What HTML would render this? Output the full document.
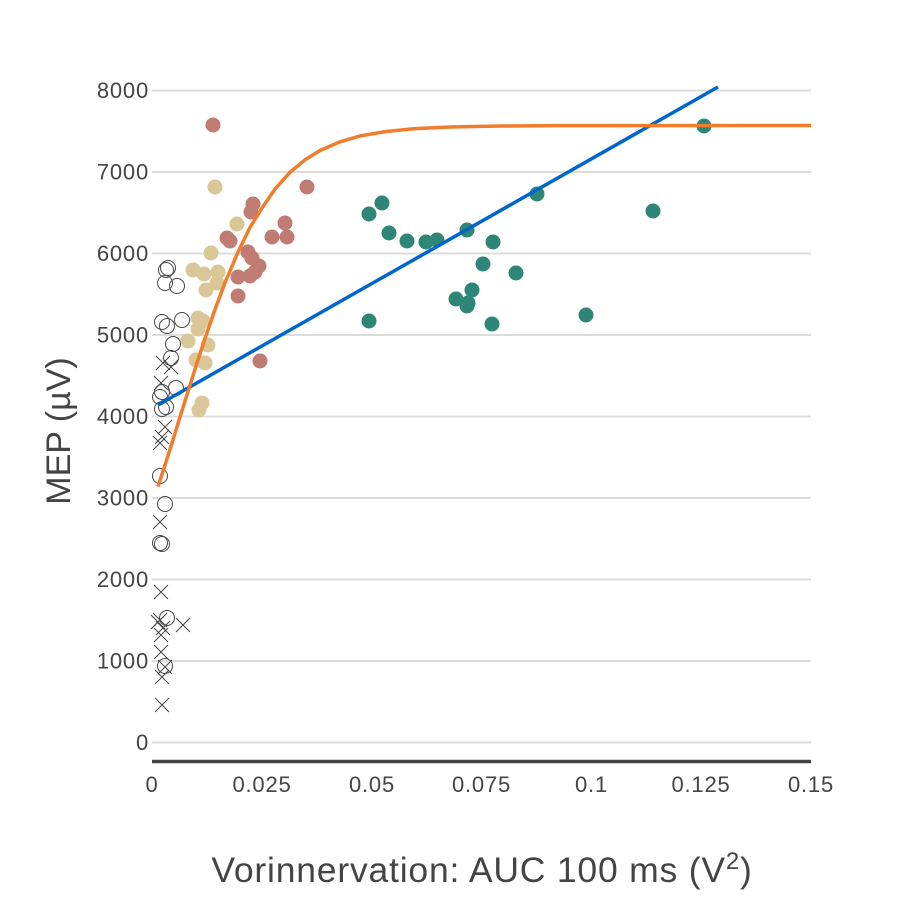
<!DOCTYPE html>
<html><head><meta charset="utf-8"><style>
html,body{margin:0;padding:0;background:#fff;}
svg{display:block;}
text{font-family:"Liberation Sans",sans-serif;fill:#444;}
</style></head><body>
<svg width="900" height="900" viewBox="0 0 900 900" xmlns="http://www.w3.org/2000/svg">
<rect width="900" height="900" fill="#fff"/>
<g stroke="#dcdcdc" stroke-width="2">
<line x1="152" x2="811" y1="742.5" y2="742.5"/>
<line x1="152" x2="811" y1="661" y2="661"/>
<line x1="152" x2="811" y1="579.5" y2="579.5"/>
<line x1="152" x2="811" y1="498" y2="498"/>
<line x1="152" x2="811" y1="416.5" y2="416.5"/>
<line x1="152" x2="811" y1="335" y2="335"/>
<line x1="152" x2="811" y1="253.5" y2="253.5"/>
<line x1="152" x2="811" y1="172" y2="172"/>
<line x1="152" x2="811" y1="90.5" y2="90.5"/>
</g>
<line x1="152" x2="811" y1="761.5" y2="761.5" stroke="#444" stroke-width="3.5"/>
<g font-size="22" text-anchor="end" letter-spacing="0.8">
<text x="149" y="750">0</text>
<text x="149" y="668.5">1000</text>
<text x="149" y="587">2000</text>
<text x="149" y="505.5">3000</text>
<text x="149" y="424">4000</text>
<text x="149" y="342.5">5000</text>
<text x="149" y="261">6000</text>
<text x="149" y="179.5">7000</text>
<text x="149" y="98">8000</text>
</g>
<g font-size="22" text-anchor="middle" letter-spacing="0.8">
<text x="152" y="792">0</text>
<text x="262" y="792">0.025</text>
<text x="372" y="792">0.05</text>
<text x="481.5" y="792">0.075</text>
<text x="591.5" y="792">0.1</text>
<text x="701" y="792">0.125</text>
<text x="811" y="792">0.15</text>
</g>
<text x="70" y="431" font-size="34" text-anchor="middle" transform="rotate(-90 70 431)">MEP (µV)</text>
<text x="482" y="882" font-size="35.5" text-anchor="middle" letter-spacing="0.8">Vorinnervation: AUC 100 ms (V<tspan font-size="24" dy="-13">2</tspan><tspan dy="13">)</tspan></text>

<!-- open circles -->
<g fill="none" stroke="#444" stroke-width="1">
<circle cx="168" cy="268" r="7.5"/><circle cx="166" cy="270" r="7.5"/><circle cx="165" cy="283" r="7.5"/><circle cx="177" cy="286" r="7.5"/>
<circle cx="162" cy="322" r="7.5"/><circle cx="167" cy="326" r="7.5"/><circle cx="182" cy="320" r="7.5"/><circle cx="173" cy="344" r="7.5"/>
<circle cx="171" cy="358" r="7.5"/><circle cx="176" cy="388" r="7.5"/><circle cx="162" cy="392" r="7.5"/><circle cx="160" cy="397" r="7.5"/>
<circle cx="162" cy="409" r="7.5"/><circle cx="166" cy="407" r="7.5"/><circle cx="160" cy="476" r="7.5"/><circle cx="165" cy="504" r="7.5"/>
<circle cx="160" cy="543" r="7.5"/><circle cx="162" cy="544" r="7.5"/><circle cx="167" cy="618" r="7.5"/><circle cx="165" cy="666" r="7.5"/>
</g>
<!-- crosses -->
<g stroke="#444" stroke-width="1" fill="none">
<path d="M156 356l14 14M170 356l-14 14"/>
<path d="M164 360l14 14M178 360l-14 14"/>
<path d="M154 376l14 14M168 376l-14 14"/>
<path d="M158 420l14 14M172 420l-14 14"/>
<path d="M155 430l14 14M169 430l-14 14"/>
<path d="M153 436l14 14M167 436l-14 14"/>
<path d="M153 515l14 14M167 515l-14 14"/>
<path d="M154 585l14 14M168 585l-14 14"/>
<path d="M151 615l14 14M165 615l-14 14"/>
<path d="M153 613l14 14M167 613l-14 14"/>
<path d="M156 621l14 14M170 621l-14 14"/>
<path d="M176 618l14 14M190 618l-14 14"/>
<path d="M154 628l14 14M168 628l-14 14"/>
<path d="M154 645l14 14M168 645l-14 14"/>
<path d="M158 660l14 14M172 660l-14 14"/>
<path d="M155 670l14 14M169 670l-14 14"/>
<path d="M155 698l14 14M169 698l-14 14"/>
</g>
<!-- tan -->
<g fill="#d9c798">
<circle cx="215" cy="187" r="7.5"/><circle cx="237" cy="224" r="7.5"/><circle cx="211" cy="253" r="7.5"/><circle cx="193" cy="270" r="7.5"/>
<circle cx="204" cy="274" r="7.5"/><circle cx="218" cy="272" r="7.5"/><circle cx="217" cy="283" r="7.5"/><circle cx="206" cy="290" r="7.5"/>
<circle cx="198" cy="318" r="7.5"/><circle cx="203" cy="321" r="7.5"/><circle cx="198" cy="329" r="7.5"/><circle cx="188" cy="341" r="7.5"/>
<circle cx="208" cy="345" r="7.5"/><circle cx="196" cy="360" r="7.5"/><circle cx="205" cy="363" r="7.5"/><circle cx="202" cy="403" r="7.5"/>
<circle cx="199" cy="410" r="7.5"/>
</g>
<!-- rose -->
<g fill="#c07b73">
<circle cx="213" cy="125" r="7.5"/><circle cx="307" cy="187" r="7.5"/><circle cx="253" cy="204" r="7.5"/><circle cx="251" cy="212" r="7.5"/>
<circle cx="227" cy="238" r="7.5"/><circle cx="230" cy="241" r="7.5"/><circle cx="272" cy="237" r="7.5"/><circle cx="285" cy="223" r="7.5"/>
<circle cx="287" cy="237" r="7.5"/><circle cx="248" cy="252" r="7.5"/><circle cx="252" cy="258" r="7.5"/><circle cx="259" cy="266" r="7.5"/>
<circle cx="255" cy="272" r="7.5"/><circle cx="250" cy="276" r="7.5"/><circle cx="238" cy="277" r="7.5"/><circle cx="238" cy="296" r="7.5"/>
<circle cx="260" cy="361" r="7.5"/>
</g>
<!-- teal -->
<g fill="#2e8677">
<circle cx="704" cy="126" r="7.5"/><circle cx="537" cy="194" r="7.5"/><circle cx="382" cy="203" r="7.5"/><circle cx="369" cy="214" r="7.5"/>
<circle cx="653" cy="211" r="7.5"/><circle cx="389" cy="233" r="7.5"/><circle cx="407" cy="241" r="7.5"/><circle cx="426" cy="242" r="7.5"/>
<circle cx="437" cy="240" r="7.5"/><circle cx="467" cy="230" r="7.5"/><circle cx="493" cy="242" r="7.5"/><circle cx="483" cy="264" r="7.5"/>
<circle cx="516" cy="273" r="7.5"/><circle cx="472" cy="290" r="7.5"/><circle cx="456" cy="299" r="7.5"/><circle cx="468" cy="303" r="7.5"/>
<circle cx="467" cy="306" r="7.5"/><circle cx="492" cy="324" r="7.5"/><circle cx="586" cy="315" r="7.5"/><circle cx="369" cy="321" r="7.5"/>
</g>
<!-- lines -->
<line x1="158" y1="405" x2="718" y2="87" stroke="#0066cc" stroke-width="3.5"/>
<polyline fill="none" stroke="#f07c2c" stroke-width="3.5" stroke-linejoin="round" points="158,486.5 165,465 172,443 180,417 188,391.5 196,366 205,338.5 215,309.5 225,282.8 238,252 250,227.5 262,208 275,189 290,172.3 305,159.8 320,150.5 340,141.8 360,136 385,131.6 415,128.6 450,127 500,126 560,125.6 811,125.5"/>
</svg>
</body></html>
